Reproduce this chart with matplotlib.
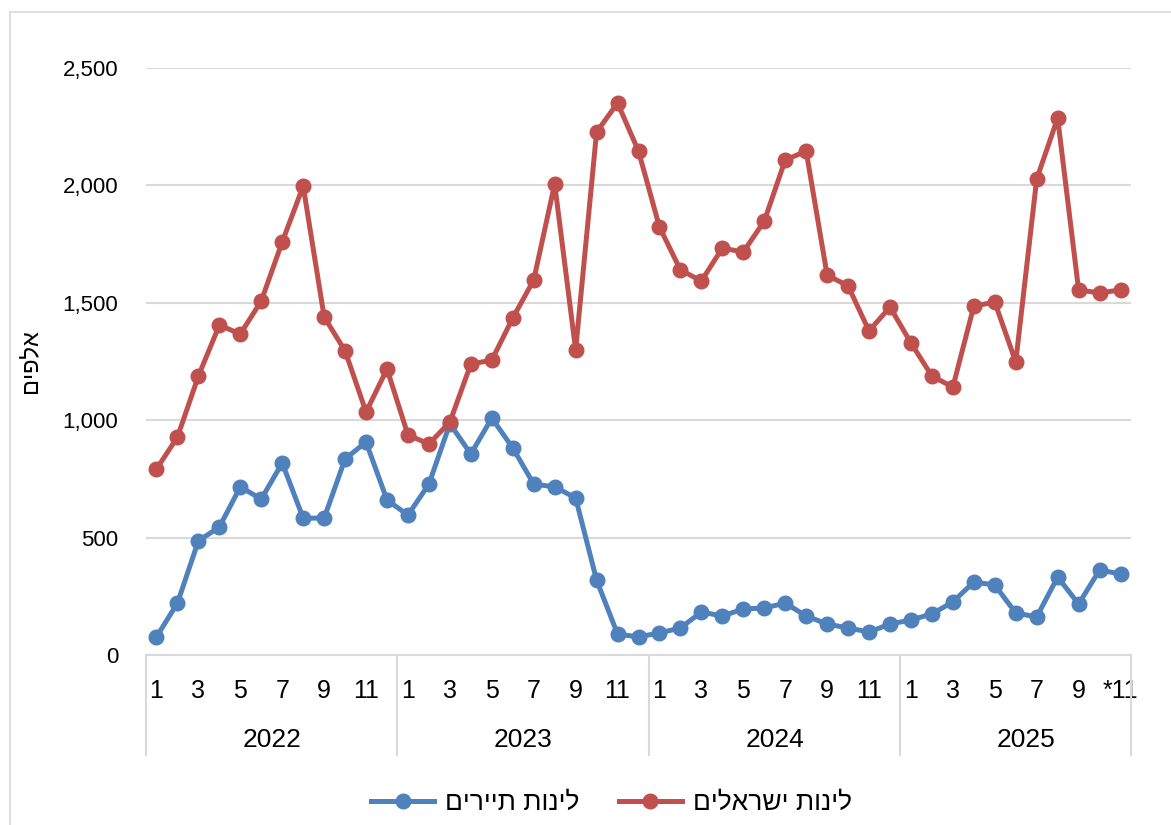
import matplotlib
matplotlib.use('Agg')
from matplotlib import pyplot as plt
from matplotlib.patches import Rectangle
import matplotlib.transforms as transforms

plt.rcParams['font.family'] = ['Liberation Sans', 'DejaVu Sans']

years = ['2022', '2023', '2024', '2025']
months_per_year = [12, 12, 12, 11]

# thousands of overnight stays
israelis = [792, 928, 1188, 1405, 1367, 1508, 1759, 1997, 1440, 1295, 1035, 1218,
            937, 899, 992, 1239, 1256, 1435, 1597, 2006, 1299, 2227, 2351, 2146,
            1823, 1640, 1593, 1733, 1716, 1848, 2108, 2146, 1618, 1572, 1380, 1482,
            1329, 1188, 1141, 1486, 1503, 1248, 2027, 2287, 1555, 1542, 1555]
tourists = [77, 221, 486, 545, 716, 664, 818, 583, 583, 835, 907, 660,
            596, 728, 985, 856, 1009, 882, 728, 716, 669, 319, 89, 77,
            94, 115, 183, 166, 196, 200, 221, 166, 132, 115, 98, 132,
            149, 175, 226, 311, 298, 179, 162, 332, 217, 362, 345]

# Hebrew strings are stored reversed so they display right-to-left
label_israelis = 'לינות ישראלים'[::-1]
label_tourists = 'לינות תיירים'[::-1]
ylabel = 'אלפים'[::-1]

red = '#C0504D'
blue = '#4F81BD'

fig = plt.figure(figsize=(11.71, 8.25), dpi=100)
fig.patches.append(Rectangle((10/1171, -0.1), 1.2, 1 - 12/825 + 0.1, transform=fig.transFigure,
                             fill=False, edgecolor='#d9d9d9', linewidth=1.2))
ax = fig.add_axes([146/1171, 1 - 655/825, (1131 - 146)/1171, (655 - 68)/825])

x = list(range(len(israelis)))
lt, = ax.plot(x, tourists, color=blue, lw=3.6, marker='o', ms=10.5, label=label_tourists, zorder=3)
li, = ax.plot(x, israelis, color=red, lw=3.6, marker='o', ms=10.5, label=label_israelis, zorder=3)

ax.set_xlim(-0.5, len(x) - 0.5)
ax.set_ylim(0, 2500)
ax.set_yticks(range(0, 2501, 500))
ax.set_yticklabels(['{:,}'.format(v) for v in range(0, 2501, 500)])
ax.yaxis.grid(True, color='#d9d9d9', lw=1.5)
ax.set_axisbelow(True)
for s in ['top', 'right', 'left']:
    ax.spines[s].set_visible(False)
ax.spines['bottom'].set_color('#d9d9d9')
ax.spines['bottom'].set_linewidth(1.5)

ticks, labels = [], []
start = 0
for yi, n in enumerate(months_per_year):
    for m in range(1, n + 1, 2):
        ticks.append(start + m - 1)
        lab = str(m)
        if yi == len(years) - 1 and m == n:
            lab = '*' + lab
        labels.append(lab)
    start += n
ax.set_xticks(ticks)
ax.set_xticklabels(labels)
ax.tick_params(axis='both', length=0, colors='black')
ax.tick_params(axis='x', pad=17, labelsize=18)
ax.tick_params(axis='y', pad=20, labelsize=16)

trans = transforms.blended_transform_factory(ax.transData, ax.transAxes)
start = 0
bounds = [-0.5]
for yi, n in enumerate(months_per_year):
    ax.text(start + 5.5, -0.145, years[yi], transform=trans, ha='center', va='center', fontsize=19)
    start += 12
    bounds.append(start - 0.5 if yi < len(years) - 1 else len(x) - 0.5)
for b in bounds:
    ax.plot([b, b], [0, -0.17], transform=trans, color='#d9d9d9', lw=1.5, clip_on=False)

ax.set_ylabel(ylabel, fontsize=17)
ax.yaxis.set_label_coords(-0.107, 0.5)

fig.legend(handles=[lt, li], loc='center', bbox_to_anchor=(0.522, 1 - 803/825), ncol=2,
           frameon=False, fontsize=19, handlelength=2.4, handletextpad=0.4, columnspacing=1.5)

fig.savefig('out.png', dpi=100)
